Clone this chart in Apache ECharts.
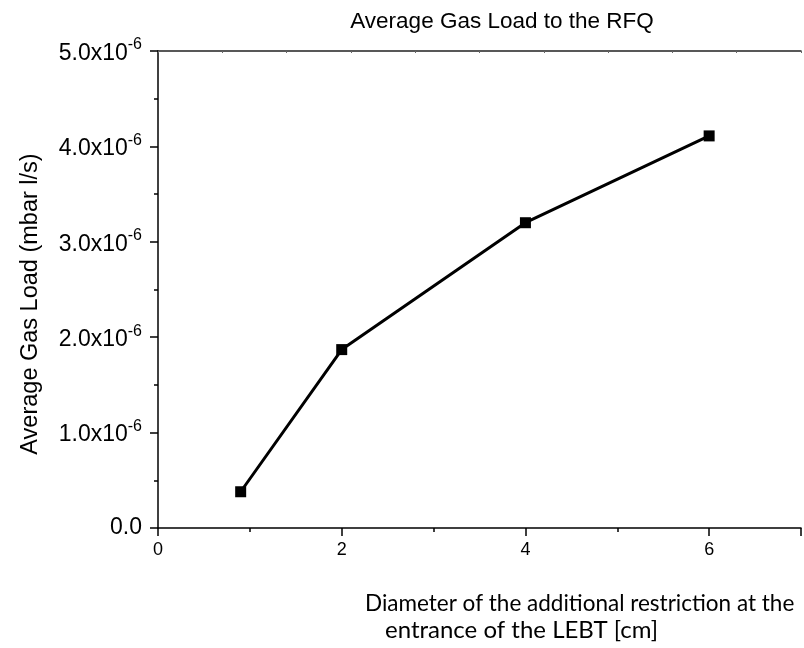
<!DOCTYPE html>
<html>
<head>
<meta charset="utf-8">
<script src="https://cdn.jsdelivr.net/npm/echarts@6/dist/echarts.min.js"></script>
<style>
  html, body { margin: 0; padding: 0; background: #fff; }
  #chart { width: 804px; height: 648px; }
</style>
</head>
<body>
<div id="chart"></div>
<script>
// Restriction diameter [cm] and the resulting average gas load [mbar l/s]
const diameters = [0.9, 2, 4, 6];
const gasLoad = [0.38e-6, 1.87e-6, 3.2e-6, 4.11e-6];
const xTicks = [0, 2, 4, 6];
const yTicks = ['0.0', '1.0', '2.0', '3.0', '4.0', '5.0'];
const yExponent = '-6';

const chart = echarts.init(document.getElementById('chart'));
const axisColor = '#000';
const sans = 'Liberation Sans';

chart.setOption({
  animation: false,
  title: {
    text: 'Average Gas Load to the RFQ',
    left: 497,
    textAlign: 'center',
    top: 5,
    textStyle: { fontFamily: sans, fontSize: 22.5, fontWeight: 'normal', color: '#000' }
  },
  grid: { left: 158, top: 51, right: -4, bottom: 120, containLabel: false },
  xAxis: [{
    type: 'value',
    min: 0, max: 7, interval: 2,
    position: 'bottom',
    axisLine: { lineStyle: { color: axisColor, width: 1.5 } },
    axisTick: { length: 8, lineStyle: { color: axisColor, width: 1.5 } },
    minorTick: { show: true, splitNumber: 2, length: 4, lineStyle: { color: axisColor, width: 1.5 } },
    splitLine: { show: false },
    axisLabel: {
      margin: 13,
      fontFamily: sans, fontSize: 18, color: '#000',
      formatter: v => xTicks.includes(v) ? String(v) : '',
    },
  }, {
    // plain frame line along the top edge
    type: 'value',
    min: 0, max: 10, interval: 1,
    position: 'top',
    axisLine: { lineStyle: { color: '#222', width: 1.5 } },
    axisTick: { inside: true, length: 2, lineStyle: { color: '#666', width: 1 } },
    axisLabel: { show: false },
    splitLine: { show: false },
  }],
  yAxis: {
    type: 'value',
    min: 0, max: 5e-6, interval: 1e-6,
    axisLine: { show: true, lineStyle: { color: axisColor, width: 1.5 } },
    axisTick: { show: true, length: 8, lineStyle: { color: axisColor, width: 1.5 } },
    minorTick: { show: true, splitNumber: 2, length: 4, lineStyle: { color: axisColor, width: 1.5 } },
    splitLine: { show: false },
    axisLabel: {
      margin: 16,
      formatter: v => {
        const i = Math.round(v / 1e-6);
        const t = yTicks[i];
        if (i === 0) return '{b|' + t + '}';
        return '{b|' + t + 'x10}{s|' + yExponent + '}';
      },
      rich: {
        b: { fontFamily: sans, fontSize: 23, color: '#000', verticalAlign: 'bottom' },
        s: { fontFamily: sans, fontSize: 16, color: '#000', verticalAlign: 'top', padding: [0, 0, 12, 0] }
      }
    }
  },
  series: [{
    type: 'line',
    xAxisIndex: 0,
    data: diameters.map((d, i) => [d, gasLoad[i]]),
    symbol: 'rect',
    symbolSize: 11,
    itemStyle: { color: '#000' },
    lineStyle: { color: '#000', width: 3 },
  }],
  graphic: [{
    // y-axis title, rotated to read bottom-to-top
    type: 'text',
    x: 31, y: 304,
    rotation: Math.PI / 2,
    style: {
      text: 'Average Gas Load (mbar l/s)',
      fontFamily: sans, fontSize: 23.5, fill: '#000',
      align: 'center', verticalAlign: 'middle'
    }
  }, {
    type: 'text',
    left: 365, top: 592,
    style: { text: 'Diameter of the additional restriction at the', fontFamily: 'Lato', fontSize: 22.5, fill: '#000' }
  }, {
    type: 'text',
    left: 385, top: 618,
    style: { text: 'entrance of the LEBT [cm]', fontFamily: 'Lato', fontSize: 24, fill: '#000' }
  }]
});
</script>
</body>
</html>
